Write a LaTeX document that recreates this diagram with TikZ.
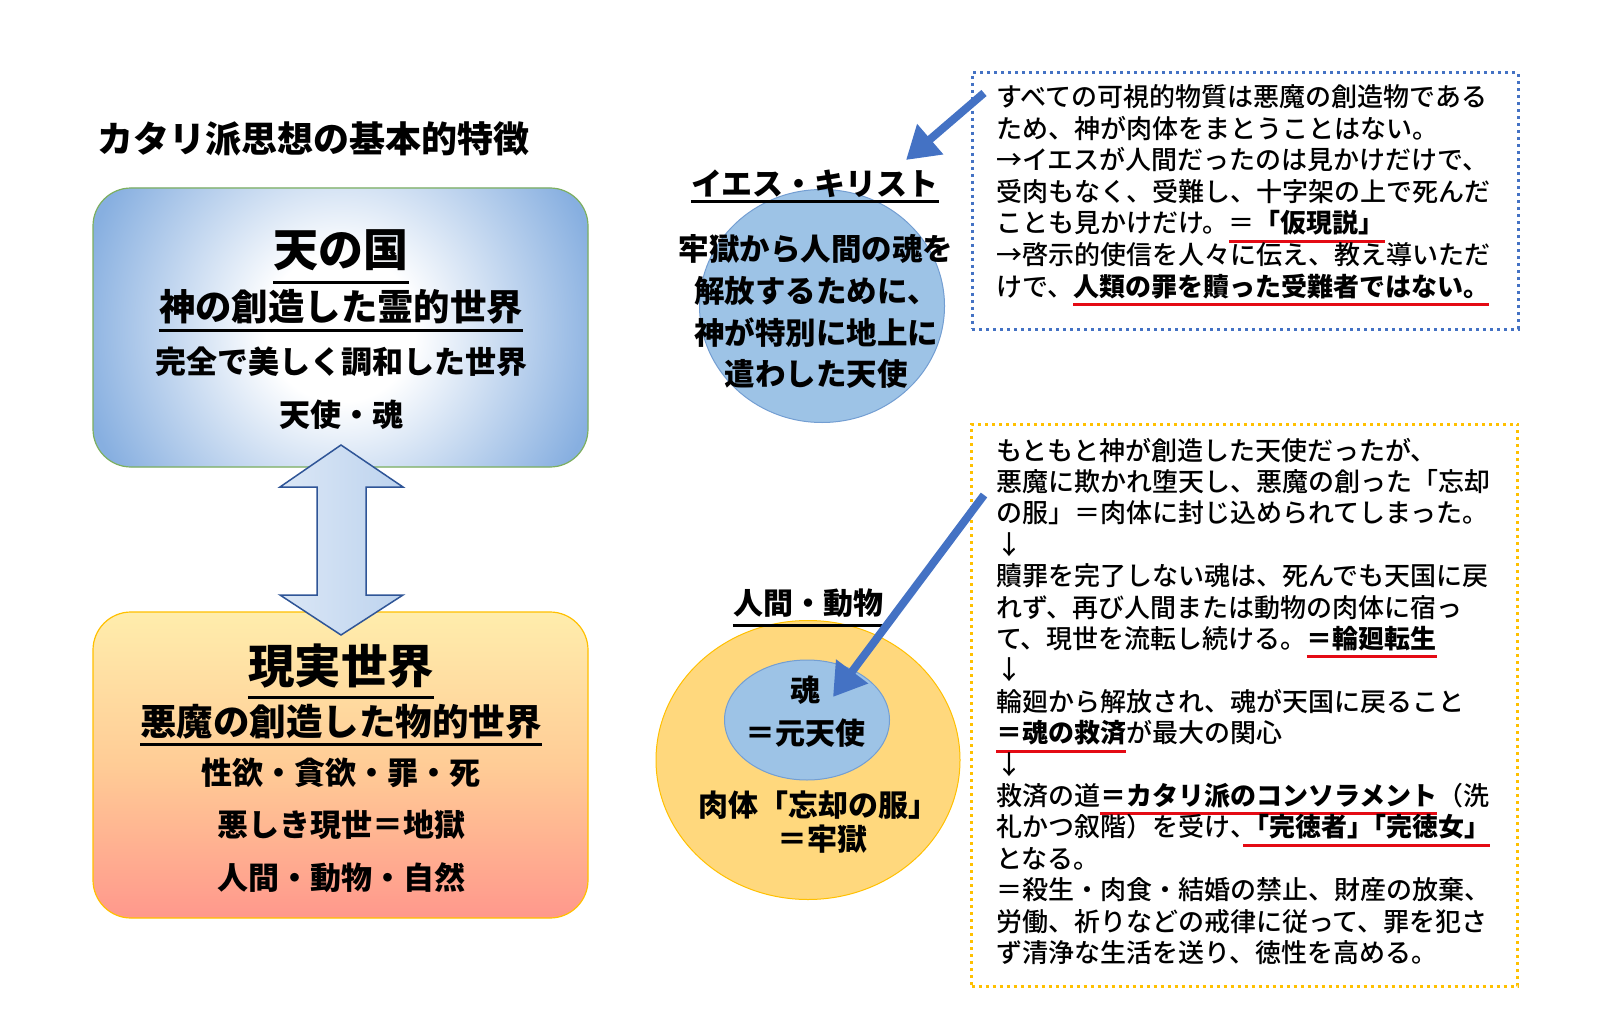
\documentclass[tikz,border=0pt]{standalone}
\usepackage{fontspec}
\setmainfont{Noto Sans CJK JP}[BoldFont={Noto Sans CJK JP Black}]
\newfontfamily\notefont{Noto Sans CJK JP Medium}[BoldFont={Noto Sans CJK JP Black}]
\usetikzlibrary{shapes.geometric,arrows.meta}
\definecolor{skyblue}{RGB}{135,175,224}
\definecolor{orb}{RGB}{157,195,230}
\definecolor{orbline}{RGB}{115,158,210}
\definecolor{arrowblue}{RGB}{68,114,196}
\definecolor{navy}{RGB}{47,85,151}
\definecolor{leaf}{RGB}{125,175,95}
\definecolor{gold}{RGB}{255,192,0}
\definecolor{sun}{RGB}{255,216,125}
\definecolor{cream}{RGB}{255,237,172}
\definecolor{peach}{RGB}{255,204,150}
\definecolor{salmon}{RGB}{255,152,140}
\definecolor{redline}{RGB}{228,10,20}
\pgfdeclareradialshading{skyglow}{\pgfpoint{0bp}{0bp}}{color(0bp)=(white); color(7bp)=(white); color(25bp)=(skyblue); color(50bp)=(skyblue)}
\newsavebox{\ulbox}
\newcommand{\redul}[1]{\sbox{\ulbox}{#1}\rlap{\textcolor{redline}{\rule[-10pt]{\wd\ulbox}{3pt}}}\usebox{\ulbox}}
\newcommand{\half}[1]{\makebox[.5em][l]{#1}}

\begin{document}
\begin{tikzpicture}[x=1pt, y=-1pt]
  \tikzset{
    word/.style={anchor=base, inner sep=0pt, font=\bfseries\fontsize{#1}{#1}\selectfont},
    note/.style={anchor=base west, inner sep=0pt, font=\notefont\fontsize{26}{26}\selectfont},
    ul/.style={line width=3pt, black},
    dotbox/.style={draw=#1, line width=3pt, dash pattern=on 3pt off 4pt, minimum width=546pt, inner sep=0pt},
    hint/.style={arrowblue, line width=8pt, -{Triangle[width=38pt,length=32pt]}},
    orb/.style={ellipse, draw=orbline, line width=1pt, fill=orb, inner sep=0pt},
  }
  \fill[white] (0,0) rectangle (1600,1035);
  \useasboundingbox (0,0) rectangle (1600,1035);
  %
  \node[word=36, anchor=base west] (title) at (97,153) {カタリ派思想の基本的特徴};
  %
  % heaven
  \node[draw=leaf, line width=1.2pt, rounded corners=38pt, minimum width=495pt, minimum height=279pt, fill=skyblue,
    path picture={\shade[shading=skyglow] (path picture bounding box.center) circle (265pt);}]
    (heaven) at (340.5,327.5) {};
  \node[word=45] (sky) at (341,266) {天の国};
  \node[word=36.4] (skyA) at (341,320) {神の創造した霊的世界};
  \node[word=31] (skyB) at (341,373) {完全で美しく調和した世界};
  \node[word=31] (skyC) at (341,426) {天使・魂};
  \draw[ul] ([yshift=-16pt]sky.base west) -- ([yshift=-16pt]sky.base east);
  \draw[ul] ([yshift=-10pt]skyA.base west) -- ([yshift=-10pt]skyA.base east);
  %
  % earth
  \node[draw=gold, line width=1.2pt, rounded corners=38pt, minimum width=495pt, minimum height=306pt,
    top color=cream, bottom color=salmon, middle color=peach] (earth) at (340.5,765) {};
  \node[word=46.5] (world) at (341,683) {現実世界};
  \node[word=36.5] (worldA) at (341,735) {悪魔の創造した物的世界};
  \foreach \txt [count=\i] in {性欲・貪欲・罪・死, 悪しき現世＝地獄, 人間・動物・自然}
    \node[word=31] (worldB\i) at (341, 731.5+52.5*\i) {\txt};
  \draw[ul] ([yshift=-14pt]world.base west) -- ([yshift=-14pt]world.base east);
  \draw[ul] ([yshift=-9pt]worldA.base west) -- ([yshift=-9pt]worldA.base east);
  %
  \draw[navy, line width=1.5pt, left color=skyblue!30, right color=skyblue!55]
    (341,445) -- (403,487) -- (366,487) -- (366,595) -- (403,595) -- (341,635)
    -- (280,595) -- (317,595) -- (317,487) -- (280,487) -- cycle;
  %
  % christ
  \node[orb, minimum width=245pt, minimum height=233pt] (christ) at (822,306) {};
  \node[word=31] (christT) at (815,195.5) {イエス・キリスト};
  \draw[ul] ([yshift=-6.5pt]christT.base west) -- ([yshift=-6.5pt]christT.base east);
  \foreach \txt [count=\i] in {牢獄から人間の魂を, 解放するために、, 神が特別に地上に, 遣わした天使}
    \node[word=30.5] (mission\i) at (816, 218.9+41.7*\i) {\txt};
  %
  % man and beast
  \node[orb, draw=gold, fill=sun, minimum width=304pt, minimum height=279pt] (flesh) at (808,760) {};
  \node[orb, minimum width=165pt, minimum height=120pt] (soul) at (807,720) {};
  \node[word=30] (beings) at (808,614) {人間・動物};
  \draw[ul] ([yshift=-11pt]beings.base west) -- ([yshift=-11pt]beings.base east);
  \node[word=30] (soulA) at (805,701) {魂};
  \node[word=30] (soulB) at (805,744) {＝元天使};
  \node[word=30] (fleshA) at (818,816) {肉体「忘却の服」};
  \node[word=30] (fleshB) at (822,850) {＝牢獄};
  %
  % notes
  \node[dotbox=arrowblue, minimum height=256pt] (docetism) at (1245,201) {};
  \node[dotbox=gold, minimum height=562pt] (salvation) at (1244.5,705) {};
  \foreach \txt [count=\i] in {
    {すべての可視的物質は悪魔の創造物である},
    {ため、神が肉体をまとうことはない。},
    {→イエスが人間だったのは見かけだけで、},
    {受肉もなく、受難し、十字架の上で死んだ},
    {ことも見かけだけ。\redul{＝\textbf{「仮現説」}}},
    {→啓示的使信を人々に伝え、教え導いただ},
    {けで、\redul{\textbf{人類の罪を贖った受難者ではない。}}}}
    \node[note] (v\i) at (996, 75.5+31.5*\i) {\txt};
  \foreach \txt [count=\i] in {
    {もともと神が創造した天使だったが、},
    {悪魔に欺かれ堕天し、悪魔の創った「忘却},
    {の服」＝肉体に封じ込められてしまった。},
    {↓},
    {贖罪を完了しない魂は、死んでも天国に戻},
    {れず、再び人間または動物の肉体に宿っ},
    {て、現世を流転し続ける。\redul{\textbf{＝輪廻転生}}},
    {↓},
    {輪廻から解放され、魂が天国に戻ること},
    {\redul{\textbf{＝魂の救済}}が最大の関心},
    {↓},
    {救済の道\redul{\textbf{＝カタリ派のコンソラメント}}（洗},
    {礼かつ叙階）を受け\half{、}\redul{\textbf{「完徳者\half{」}「完徳女」}}},
    {となる。},
    {＝殺生・肉食・結婚の禁止、財産の放棄、},
    {労働、祈りなどの戒律に従って、罪を犯さ},
    {ず清浄な生活を送り、徳性を高める。}}
    \node[note] (w\i) at (996, 428.6+31.4*\i) {\txt};
  %
  \coordinate (from1) at (984,93);
  \coordinate (to1) at (906,160);
  \draw[hint] (from1) -- (to1);
  \coordinate (from2) at (984,495);
  \coordinate (to2) at (833,697);
  \draw[hint] (from2) -- (to2);
\end{tikzpicture}
\end{document}
